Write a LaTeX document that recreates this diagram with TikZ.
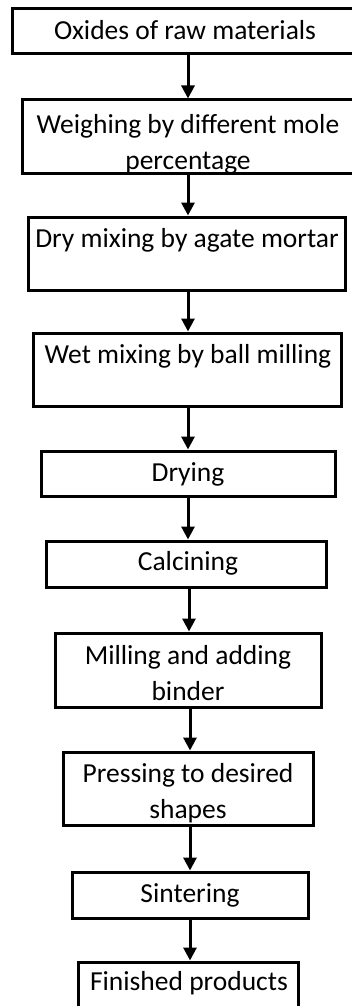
\documentclass[tikz,border=0pt]{standalone}
\usepackage{fontspec}
\setmainfont{Carlito}
\usetikzlibrary{arrows.meta}
\tikzset{
  stepbox/.style={draw=black, line width=3pt, rectangle, inner sep=0pt, fill=none},
  steptext/.style={anchor=base, align=center, inner sep=0pt,
    font=\fontsize{27.5}{36}\selectfont},
  flow/.style={line width=3pt, -{Triangle[width=13pt,length=13pt]}}
}
% box from (l,t) to (r,b) in picture pixels
\newcommand{\flowbox}[5]{%
  \node[stepbox, minimum width={(#4)-(#2)}, minimum height={(#5)-(#3)}]
    (#1) at ({((#2)+(#4))/2},{((#3)+(#5))/2}) {};}
\begin{document}
\begin{tikzpicture}[x=1pt, y=-1pt]
  \useasboundingbox (0,0) rectangle (352,1006);
  \clip (0,0) rectangle (352,1006);

  \flowbox{b1}{12}{9}{372}{53.5}
  \flowbox{b2}{22}{100}{372}{173}
  \flowbox{b3}{28}{217}{345}{290}
  \flowbox{b4}{33}{333}{341}{406}
  \flowbox{b5}{41}{451}{335}{496}
  \flowbox{b6}{46}{541}{326}{587}
  \flowbox{b7}{55}{633}{321}{707}
  \flowbox{b8}{63}{752}{313}{825}
  \flowbox{b9}{72}{872}{308}{918}
  \flowbox{b10}{78}{962}{298}{1040}

  % anchor=base sits on the last line of a two-line label
  \node[steptext] (t1) at (185,40) {Oxides of raw materials};
  \node[steptext] (t2) at (188,169) {Weighing by different mole\\percentage};
  \node[steptext] (t3) at (187,247) {Dry mixing by agate mortar};
  \node[steptext] (t4) at (188,363) {Wet mixing by ball milling};
  \node[steptext] (t5) at (188,481) {Drying};
  \node[steptext] (t6) at (188,570) {Calcining};
  \node[steptext] (t7) at (188,700) {Milling and adding\\binder};
  \node[steptext] (t8) at (188,818) {Pressing to desired\\shapes};
  \node[steptext] (t9) at (190,902) {Sintering};
  \node[steptext] (t10) at (189,990) {Finished products};

  \coordinate (a1) at (188,0);
  \coordinate (a2) at (189,0);
  \coordinate (a3) at (190,0);
  \draw[flow] (b1.south -| a1) -- (b2.north -| a1);
  \draw[flow] (b2.south -| a1) -- (b3.north -| a1);
  \draw[flow] (b3.south -| a1) -- (b4.north -| a1);
  \draw[flow] (b4.south -| a1) -- (b5.north -| a1);
  \draw[flow] (b5.south -| a1) -- (b6.north -| a1);
  \draw[flow] (b6.south -| a2) -- (b7.north -| a2);
  \draw[flow] (b7.south -| a3) -- (b8.north -| a3);
  \draw[flow] (b8.south -| a3) -- (b9.north -| a3);
  \draw[flow] (b9.south -| a3) -- (b10.north -| a3);
\end{tikzpicture}
\end{document}
